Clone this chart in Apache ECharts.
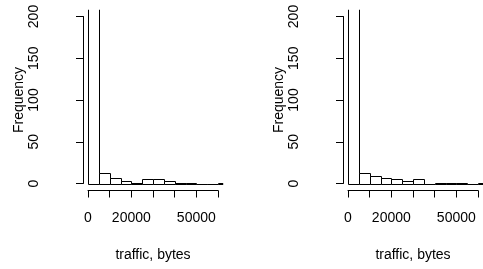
<!DOCTYPE html>
<html>
<head>
<meta charset="utf-8">
<script src="https://cdn.jsdelivr.net/npm/echarts@6/dist/echarts.min.js"></script>
<style>
  html, body { margin: 0; padding: 0; background: #fff; }
  #chart { width: 483px; height: 269px; }
</style>
</head>
<body>
<div id="chart"></div>
<script>
// histogram bins (bytes), 5000 wide
const binWidth = 5000;
const binStarts = [0, 5000, 10000, 15000, 20000, 25000, 30000, 35000, 40000, 45000, 50000, 55000, 60000];
// first bin goes off the top of the plot (clipped at ylim 200)
const countsLeft = [400, 13, 7, 3, 1, 5, 5, 3, 1, 1, 0, 0, 1];
const countsRight = [400, 12, 9, 7, 5, 3, 5, 0, 1, 1, 1, 0, 1];
const xShownLabels = [0, 20000, 50000];
const yTicks = [0, 50, 100, 150, 200];

const FONT = 'Liberation Sans, Arial, sans-serif';
const X_MIN = 0, X_MAX = 60000, Y_MIN = 0, Y_MAX = 200;
// R pads the plot region 4% each side
const xPad = (X_MAX - X_MIN) * 0.04, yPad = (Y_MAX - Y_MIN) * 0.04;

function binData(counts) {
  return counts.map((c, i) => [binStarts[i], binStarts[i] + binWidth, c]);
}

function renderBin(params, api) {
  const a = api.coord([api.value(0), 0]);
  const b = api.coord([api.value(1), api.value(2)]);
  const tl = api.coord([X_MIN - xPad, Y_MAX + yPad]);
  const br = api.coord([X_MAX + xPad, Y_MIN - yPad]);
  return {
    type: 'rect',
    shape: { x: Math.round(a[0]) + 0.5, y: Math.round(b[1]) + 0.5, width: Math.round(b[0]) - Math.round(a[0]), height: Math.round(a[1]) - Math.round(b[1]) },
    style: { fill: '#fff', stroke: '#000', lineWidth: 1 },
    clipPath: { type: 'rect', shape: { x: tl[0], y: tl[1], width: br[0] - tl[0], height: br[1] - tl[1] } }
  };
}

function xAxisFor(i) {
  return {
    type: 'value', gridIndex: i, min: X_MIN, max: X_MAX, interval: 10000,
    offset: 7,
    splitLine: { show: false },
    axisLine: { onZero: false, lineStyle: { color: '#000', width: 1 } },
    axisTick: { length: 7, lineStyle: { color: '#000' } },
    axisLabel: {
      color: '#000', fontFamily: FONT, fontSize: 14, margin: 21,
      formatter: v => xShownLabels.indexOf(v) >= 0 ? String(v) : ''
    },
    name: 'traffic, bytes', nameLocation: 'middle', nameGap: 58,
    nameTextStyle: { color: '#000', fontFamily: FONT, fontSize: 14 }
  };
}

function yAxisFor(i) {
  return {
    type: 'value', gridIndex: i, min: Y_MIN, max: Y_MAX, interval: 50,
    offset: 5,
    splitLine: { show: false },
    axisLine: { show: true, onZero: false, lineStyle: { color: '#000', width: 1 } },
    axisTick: { show: true, length: 7, lineStyle: { color: '#000' } },
    axisLabel: { color: '#000', fontFamily: FONT, fontSize: 14, rotate: 90, margin: 42,
      formatter: v => yTicks.indexOf(v) >= 0 ? String(v) : '' },
    name: 'Frequency', nameLocation: 'middle', nameGap: 55,
    nameTextStyle: { color: '#000', fontFamily: FONT, fontSize: 14 }
  };
}

const chart = echarts.init(document.getElementById('chart'), null, { renderer: 'canvas' });
chart.setOption({
  animation: false,
  backgroundColor: '#fff',
  grid: [
    { left: 88, top: 16.5, width: 130, height: 167 },
    { left: 348, top: 16.5, width: 130, height: 167 }
  ],
  xAxis: [xAxisFor(0), xAxisFor(1)],
  yAxis: [yAxisFor(0), yAxisFor(1)],
  series: [
    { type: 'custom', xAxisIndex: 0, yAxisIndex: 0, renderItem: renderBin, data: binData(countsLeft) },
    { type: 'custom', xAxisIndex: 1, yAxisIndex: 1, renderItem: renderBin, data: binData(countsRight) }
  ]
});
</script>
</body>
</html>
